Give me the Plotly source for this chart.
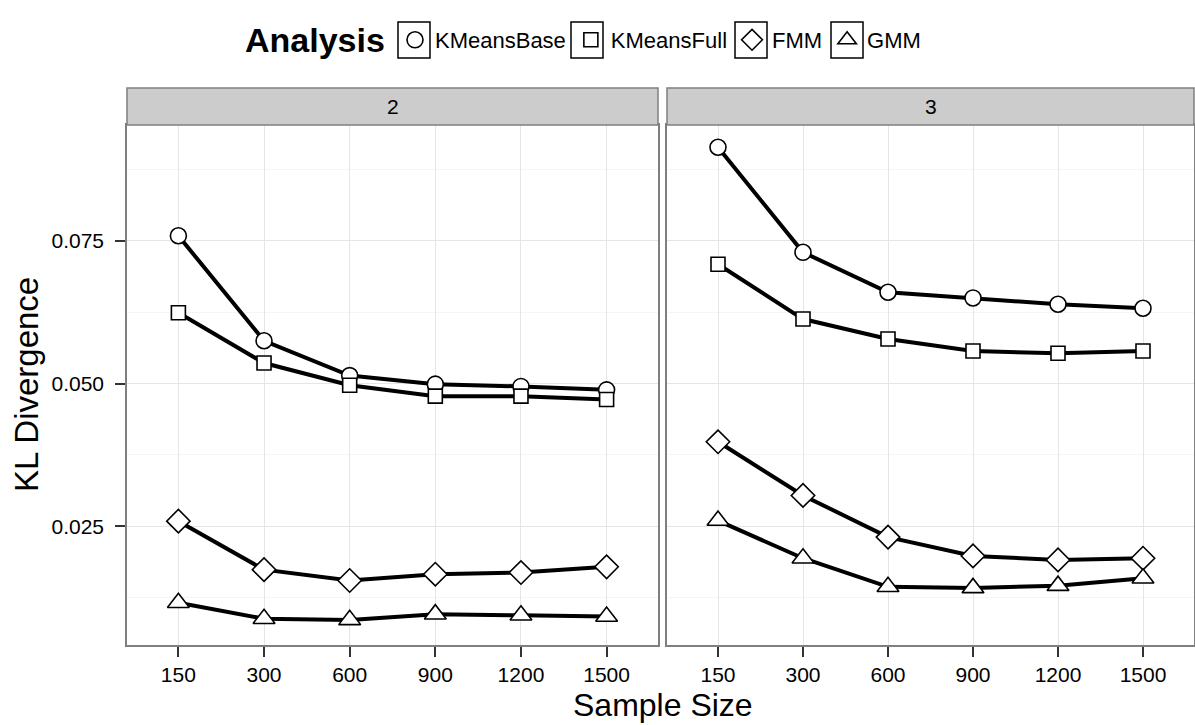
import plotly.graph_objects as go

sample_sizes = ["150", "300", "600", "900", "1200", "1500"]
analyses = ["KMeansBase", "KMeansFull", "FMM", "GMM"]
panels = ["2", "3"]

# KL divergence values, panel "2"
p2_kmeansbase = [0.0759, 0.0575, 0.0514, 0.0499, 0.0495, 0.0489]
p2_kmeansfull = [0.0624, 0.0536, 0.0497, 0.0478, 0.0478, 0.0472]
p2_fmm = [0.0259, 0.0174, 0.0155, 0.0166, 0.0169, 0.0179]
p2_gmm = [0.0116, 0.0088, 0.0086, 0.0096, 0.0094, 0.0092]

# KL divergence values, panel "3"
p3_kmeansbase = [0.0914, 0.0730, 0.0660, 0.0650, 0.0639, 0.0632]
p3_kmeansfull = [0.0709, 0.0613, 0.0578, 0.0557, 0.0553, 0.0557]
p3_fmm = [0.0398, 0.0304, 0.0231, 0.0198, 0.0191, 0.0194]
p3_gmm = [0.0260, 0.0194, 0.0144, 0.0142, 0.0146, 0.0159]

data = {
    "2": [p2_kmeansbase, p2_kmeansfull, p2_fmm, p2_gmm],
    "3": [p3_kmeansbase, p3_kmeansfull, p3_fmm, p3_gmm],
}
symbols = ["circle", "square", "diamond", "triangle-up"]
sizes = [16, 14, 18, 19]

FONT = "Liberation Sans, Arial, Helvetica, sans-serif"
fig = go.Figure()

axes = [("x", "y"), ("x2", "y2")]
# lines first (all groups), then points (like ggplot layering)
for pi, panel in enumerate(panels):
    xa, ya = axes[pi]
    for ai, name in enumerate(analyses):
        fig.add_trace(go.Scatter(
            x=sample_sizes, y=data[panel][ai], mode="lines",
            line=dict(color="black", width=4), xaxis=xa, yaxis=ya,
            showlegend=False, hoverinfo="skip", legendgroup=name))
for pi, panel in enumerate(panels):
    xa, ya = axes[pi]
    for ai, name in enumerate(analyses):
        fig.add_trace(go.Scatter(
            x=sample_sizes, y=data[panel][ai], mode="markers", name=name,
            marker=dict(symbol=symbols[ai], size=sizes[ai], color="white",
                        line=dict(color="black", width=1.6)),
            xaxis=xa, yaxis=ya, legendgroup=name, showlegend=(pi == 0)))

W, H = 1195, 725
L, R, T, B = 127, 1, 125, 80
pw = W - L - R
ph = H - T - B
left_dom = [0, 531 / pw]
right_dom = [540 / pw, 1]

grid_major = "#E5E5E5"
border = "#7F7F7F"
xcommon = dict(type="category", categoryorder="array", categoryarray=sample_sizes,
               range=[-0.6, 5.6], showgrid=True, gridcolor=grid_major, gridwidth=1,
               showline=True, mirror=True, linecolor=border, linewidth=1.5,
               ticks="outside", ticklen=10, tickwidth=2, tickcolor="#333333",
               tickfont=dict(family=FONT, size=21, color="black"), zeroline=False,
               automargin=False)
ycommon = dict(range=[0.0042, 0.0953], tickvals=[0.025, 0.050, 0.075],
               ticktext=["0.025", "0.050", "0.075"],
               showgrid=True, gridcolor=grid_major, gridwidth=1,
               minor=dict(tickvals=[0.0125, 0.0375, 0.0625, 0.0875], showgrid=True,
                          gridcolor="#F5F5F5", gridwidth=1, ticks=""),
               showline=True, mirror=True, linecolor=border, linewidth=1.5,
               zeroline=False, automargin=False)

LEG_Y = 40  # legend vertical centre, px from top
fig.update_layout(
    width=W, height=H,
    margin=dict(l=L, r=R, t=T, b=B, autoexpand=False),
    paper_bgcolor="white", plot_bgcolor="white",
    font=dict(family=FONT, color="black"),
    xaxis=dict(domain=left_dom, anchor="y", **xcommon),
    xaxis2=dict(domain=right_dom, anchor="y2", **xcommon),
    yaxis=dict(domain=[0, 1], anchor="x", ticks="outside", ticklen=10, tickwidth=2,
               tickcolor="#333333", tickfont=dict(family=FONT, size=21, color="black"),
               ticklabelstandoff=7, **ycommon),
    yaxis2=dict(domain=[0, 1], anchor="x2", matches="y", showticklabels=False,
                ticks="", **ycommon),
    legend=dict(orientation="h", x=(395 - L) / pw, xanchor="left",
                y=1 + (T - LEG_Y) / ph, yanchor="middle",
                font=dict(family=FONT, size=22), itemsizing="trace",
                bgcolor="rgba(0,0,0,0)", tracegroupgap=0, itemwidth=30),
    showlegend=True,
)

# legend title
fig.add_annotation(text="<b>Analysis</b>", xref="paper", yref="paper",
                   x=(243 - L) / pw, y=1 + (T - LEG_Y) / ph, showarrow=False,
                   xanchor="left", yanchor="middle",
                   font=dict(family=FONT, size=34, color="black"))

# boxes around legend keys (ggplot-style key backgrounds)
key_centres = [414, 587, 751, 847]
for cx in key_centres:
    fig.add_shape(type="rect", xref="paper", yref="paper",
                  x0=(cx - 16 - L) / pw, x1=(cx + 16 - L) / pw,
                  y0=1 + (T - LEG_Y - 18) / ph, y1=1 + (T - LEG_Y + 18) / ph,
                  line=dict(color="black", width=1.5), fillcolor="rgba(0,0,0,0)")

strip_h = 37 / ph
for pi, panel in enumerate(panels):
    xa = "x" if pi == 0 else "x2"
    ya = "y" if pi == 0 else "y2"
    fig.add_shape(type="rect", xref=f"{xa} domain", yref=f"{ya} domain",
                  x0=0, x1=1, y0=1, y1=1 + strip_h,
                  fillcolor="#CCCCCC", line=dict(color=border, width=1.5), layer="above")
    fig.add_annotation(text=panel, xref=f"{xa} domain", yref=f"{ya} domain",
                       x=0.5, y=1 + strip_h / 2, showarrow=False,
                       font=dict(family=FONT, size=21, color="black"),
                       xanchor="center", yanchor="middle")

fig.add_annotation(text="Sample Size", xref="paper", yref="paper",
                   x=(663 - L) / pw, y=-(705 - (H - B)) / ph, showarrow=False,
                   xanchor="center", yanchor="middle",
                   font=dict(family=FONT, size=32, color="black"))
fig.add_annotation(text="KL Divergence", xref="paper", yref="paper",
                   x=(26 - L) / pw, y=0.5, showarrow=False, textangle=-90,
                   xanchor="center", yanchor="middle",
                   font=dict(family=FONT, size=33, color="black"))

fig.write_html("out.html", config={"displayModeBar": False},
               post_script="document.body.style.margin='0';"
                           "document.body.style.overflow='hidden';")
